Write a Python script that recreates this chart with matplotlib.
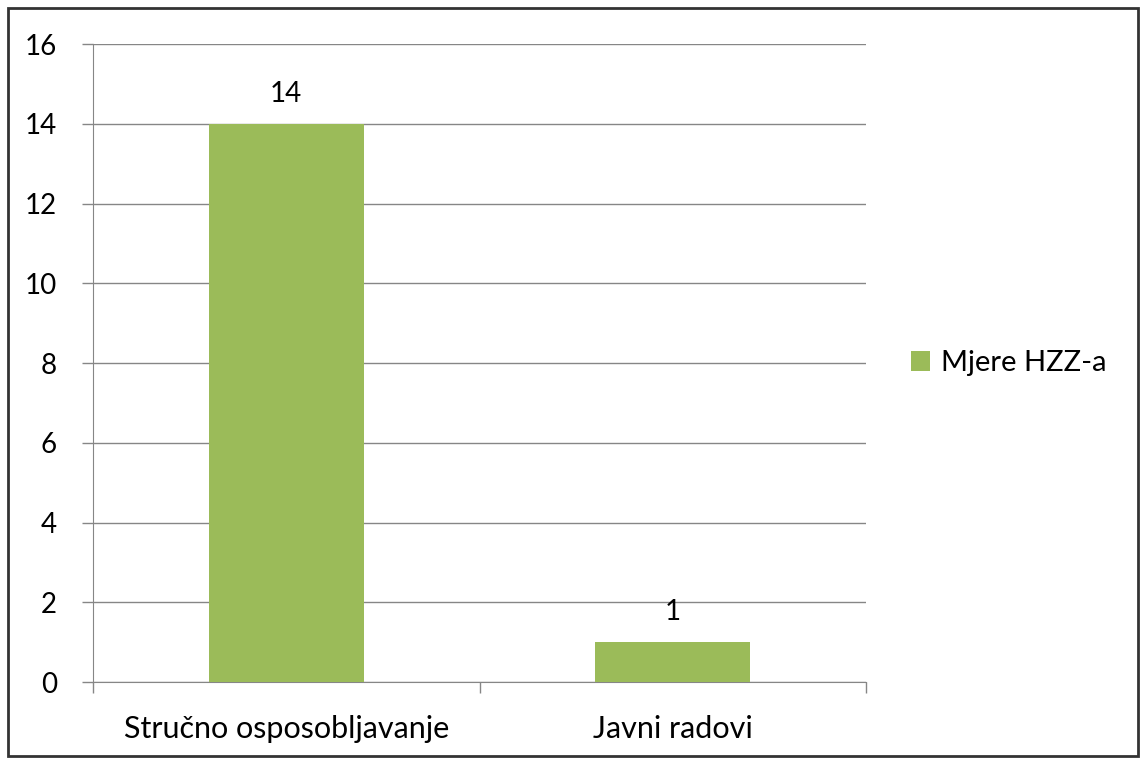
import matplotlib.pyplot as plt
from matplotlib.patches import Rectangle

kategorije = ["Stručno osposobljavanje", "Javni radovi"]
vrijednosti = [14, 1]
serija = "Mjere HZZ-a"
y_ticks = [0, 2, 4, 6, 8, 10, 12, 14, 16]

plt.rcParams['font.family'] = ['Lato', 'DejaVu Sans']

fig = plt.figure(figsize=(11.46, 7.6), dpi=100)
ax = fig.add_axes([0.0812, 0.1026, 0.6745, 0.8395])

siva = "#868686"
x = list(range(len(kategorije)))
bars = ax.bar(x, vrijednosti, width=0.4, color="#9BBB59", label=serija, zorder=3)
for b, v in zip(bars, vrijednosti):
    ax.text(b.get_x() + b.get_width() / 2, v + 0.42, str(v),
            ha="center", va="bottom", fontsize=20, color="black")

ax.set_xlim(-0.5, len(kategorije) - 0.5)
ax.set_ylim(0, 16)
ax.set_yticks(y_ticks)
ax.yaxis.grid(True, color=siva, linewidth=1.0, zorder=0)
ax.set_xticks(x)
ax.set_xticklabels(kategorije, fontsize=22)
ax.set_xticks([-0.5, 0.5, 1.5], minor=True)
ax.tick_params(axis="x", which="major", length=0, pad=24)
ax.tick_params(axis="x", which="minor", length=8, color=siva, width=1)
ax.tick_params(axis="y", length=8, color=siva, width=1, labelsize=20, pad=18)

for s in ["top", "right"]:
    ax.spines[s].set_visible(False)
ax.spines["left"].set_color(siva)
ax.spines["bottom"].set_color(siva)

ax.legend(loc="center left", bbox_to_anchor=(1.024, 0.5), frameon=False,
          fontsize=21, handlelength=0.65, handleheight=0.65, handletextpad=0.4)

# okvir oko cijele slike
fig.patches.append(Rectangle((0.007, 0.005), 0.986, 0.985, transform=fig.transFigure,
                             fill=False, edgecolor="#333333", linewidth=2.0))

fig.savefig("out.png", dpi=100)
